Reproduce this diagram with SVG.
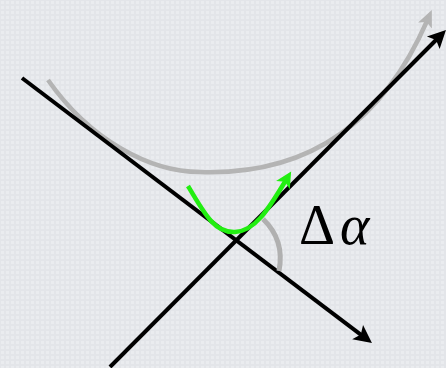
<svg xmlns="http://www.w3.org/2000/svg" width="446" height="368" viewBox="0 0 446 368">
  <defs>
    <pattern id="dots" x="0" y="0" width="5" height="5" patternUnits="userSpaceOnUse">
      <rect width="5" height="5" fill="#e3e5e9"/>
      <rect x="1" y="1" width="3" height="3" fill="#eaecef"/>
    </pattern>
    <marker id="ahBlack" viewBox="-8 -10 22 20" markerWidth="22" markerHeight="20" refX="0" refY="0" orient="auto" markerUnits="userSpaceOnUse">
      <path d="M12,0 L-6,-9 L-2,0 L-6,9 Z" fill="#000"/>
    </marker>
    <marker id="ahGray" viewBox="-8 -10 22 20" markerWidth="22" markerHeight="20" refX="0" refY="0" orient="auto" markerUnits="userSpaceOnUse">
      <path d="M12,0 L-5,-7.5 L-1,0 L-5,7.5 Z" fill="#b4b4b4"/>
    </marker>
    <marker id="ahGreen" viewBox="-8 -10 22 20" markerWidth="22" markerHeight="20" refX="0" refY="0" orient="auto" markerUnits="userSpaceOnUse">
      <path d="M10,0 L-6,-8 L-2,0 L-6,8 Z" fill="#22ee11"/>
    </marker>
  </defs>
  <style>
    .axis { fill: none; stroke: #000; stroke-width: 4; }
    .path { fill: none; stroke: #b4b4b4; stroke-width: 4.5; }
    .green { fill: none; stroke: #22ee11; stroke-width: 4.5; }
    .arc { fill: none; stroke: #b0b0b0; stroke-width: 5; }
  </style>
  <rect width="446" height="368" fill="url(#dots)"/>
  <g id="connectors">
    <path id="path-curve" class="path" d="M48,80 C90,140 150,172 200,172 C290,175 375,140 427,21" marker-end="url(#ahGray)"/>
    <line id="axis-1" class="axis" x1="22" y1="78" x2="362.4" y2="335.8" marker-end="url(#ahBlack)"/>
    <line id="axis-2" class="axis" x1="110" y1="367" x2="437.5" y2="38.5" marker-end="url(#ahBlack)"/>
    <path id="angle-arc" class="arc" d="M263,219 Q285,240 279,271"/>
    <path id="rotation" class="green" d="M188,186 C205,215 215,233 235,232 C255,231 268,210 286,180" marker-end="url(#ahGreen)"/>
  </g>
  <g id="label-delta-alpha">
    <text x="299" y="244" font-family="Liberation Serif, DejaVu Serif, serif" font-size="56" fill="#000">Δ<tspan dx="5" font-style="italic">α</tspan></text>
  </g>
</svg>
